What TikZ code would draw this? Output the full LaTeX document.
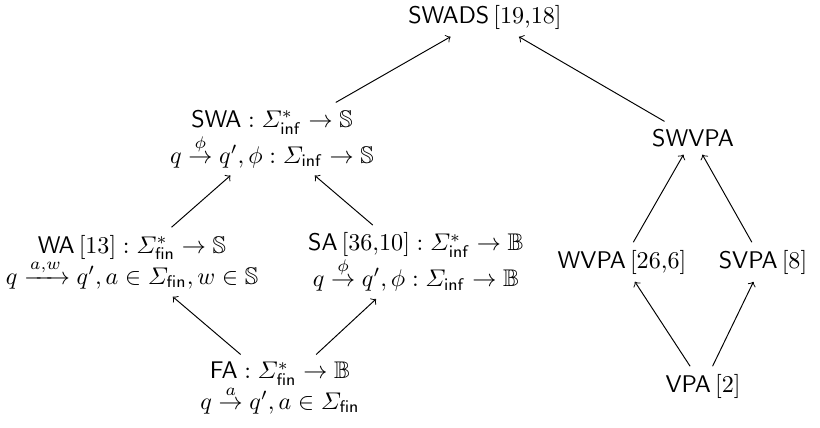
\documentclass[tikz,border=0pt]{standalone}
\usepackage{amsmath,amssymb}
\begin{document}
\begin{tikzpicture}[x=0.01458cm,y=-0.01458cm,
  lbl/.style={align=center,inner sep=3pt},
  arr/.style={->}]
\useasboundingbox (0,0) rectangle (820,428);
\node[lbl] (swads) at (485,17) {\textsf{SWADS}\,[19,18]};
\node[lbl] (swa) at (272,139) {$\textsf{SWA} : \varSigma^*_{\mathsf{inf}} \to \mathbb{S}$\\[-1pt] $q \stackrel{\phi}{\to} q', \phi : \varSigma_{\mathsf{inf}} \to \mathbb{S}$};
\node[lbl] (swvpa) at (693,138) {\textsf{SWVPA}};
\node[lbl] (wa) at (132,262) {$\textsf{WA}\,[13] : \varSigma^*_{\mathsf{fin}} \to \mathbb{S}$\\[-1pt] $q \xrightarrow{a,w} q', a \in \varSigma_{\mathsf{fin}}, w \in \mathbb{S}$};
\node[lbl] (sa) at (416,262) {$\textsf{SA}\,[36{,}10] : \varSigma^*_{\mathsf{inf}} \to \mathbb{B}$\\[-1pt] $q \stackrel{\phi}{\to} q', \phi : \varSigma_{\mathsf{inf}} \to \mathbb{B}$};
\node[lbl] (wvpa) at (622,262) {\textsf{WVPA}\,[26,6]};
\node[lbl] (svpa) at (763,262) {\textsf{SVPA}\,[8]};
\node[lbl] (fa) at (280,388) {$\textsf{FA} : \varSigma^*_{\mathsf{fin}} \to \mathbb{B}$\\[-1pt] $q \stackrel{a}{\to} q', a \in \varSigma_{\mathsf{fin}}$};
\node[lbl] (vpa) at (703,386) {\textsf{VPA}\,[2]};
\draw[arr] (fa) -- (wa);
\draw[arr] (fa) -- (sa);
\draw[arr] (wa) -- (swa);
\draw[arr] (sa) -- (swa);
\draw[arr] (swa) -- (swads);
\draw[arr] (swvpa) -- (swads);
\draw[arr] (wvpa) -- (swvpa);
\draw[arr] (svpa) -- (swvpa);
\draw[arr] (vpa) -- (wvpa);
\draw[arr] (vpa) -- (svpa);
\end{tikzpicture}
\end{document}
